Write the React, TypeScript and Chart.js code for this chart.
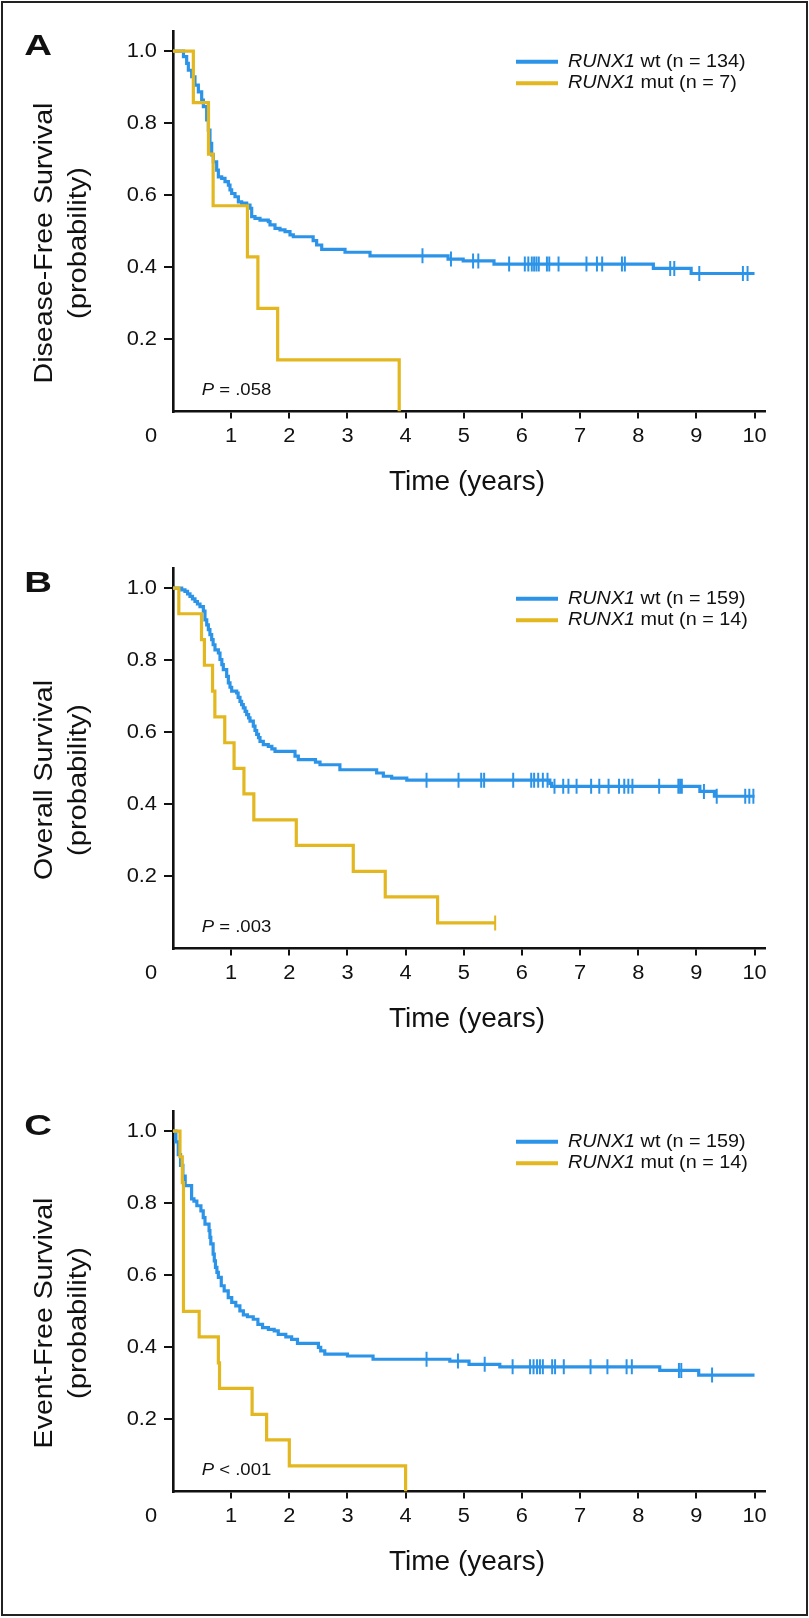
import React, { useEffect, useRef } from 'react';
import { Chart, registerables } from 'chart.js';

Chart.register(...registerables);

const BLUE = '#2C94E8';
const GOLD = '#E3B71F';
const INK = '#111111';
const FONT = '"Liberation Sans", Arial, Helvetica, sans-serif';

const xTicks = [1, 2, 3, 4, 5, 6, 7, 8, 9, 10];
const yTicks = [0.2, 0.4, 0.6, 0.8, 1.0];
const xMax = 10.18;
const yMax = 1.054;

// ---------- Panel A: Disease-Free Survival ----------
const dfsWtTimes = [0.18, 0.235, 0.264, 0.321, 0.378, 0.436, 0.493, 0.522, 0.579, 0.608, 0.636, 0.665, 0.694, 0.751, 0.78, 0.837, 0.894, 0.952, 0.98, 1.009, 1.066, 1.124, 1.181, 1.267, 1.324, 1.353, 1.41, 1.496, 1.639, 1.668, 1.754, 1.84, 1.926, 2.012, 2.069, 2.41, 2.47, 2.557, 2.958, 3.388, 4.73, 4.99, 5.52, 8.26, 8.91];
const dfsWtSurv = [0.985, 0.966, 0.947, 0.929, 0.906, 0.887, 0.864, 0.846, 0.809, 0.781, 0.744, 0.712, 0.693, 0.67, 0.651, 0.647, 0.638, 0.628, 0.615, 0.605, 0.596, 0.582, 0.578, 0.573, 0.564, 0.541, 0.536, 0.531, 0.527, 0.518, 0.508, 0.504, 0.499, 0.49, 0.485, 0.474, 0.462, 0.45, 0.442, 0.432, 0.423, 0.418, 0.409, 0.397, 0.383];
const dfsWtCensor = [4.29, 4.78, 5.16, 5.25, 5.78, 6.05, 6.11, 6.17, 6.21, 6.25, 6.29, 6.43, 6.47, 6.63, 7.11, 7.29, 7.38, 7.72, 7.77, 8.55, 8.62, 9.05, 9.8, 9.88];
const dfsWtEnd = 10.0;
const dfsMutTimes = [0.35, 0.61, 0.69, 1.28, 1.46, 1.8, 3.89];
const dfsMutSurv = [0.857, 0.714, 0.571, 0.429, 0.286, 0.143, 0.0];
const dfsMutCensor: number[] = [];
const dfsMutEnd = 3.89;

// ---------- Panel B: Overall Survival ----------
const osWtTimes = [0.15, 0.206, 0.25, 0.292, 0.335, 0.378, 0.42, 0.464, 0.522, 0.55, 0.58, 0.608, 0.635, 0.665, 0.69, 0.722, 0.78, 0.808, 0.84, 0.865, 0.923, 0.952, 0.98, 1.009, 1.095, 1.12, 1.152, 1.18, 1.209, 1.24, 1.267, 1.3, 1.324, 1.381, 1.41, 1.439, 1.47, 1.496, 1.553, 1.639, 1.7, 1.754, 2.098, 2.155, 2.45, 2.528, 2.87, 3.502, 3.617, 3.76, 4.02, 6.48, 6.51, 9.06, 9.31];
const osWtSurv = [0.995, 0.991, 0.984, 0.977, 0.97, 0.963, 0.956, 0.949, 0.936, 0.912, 0.898, 0.885, 0.871, 0.857, 0.843, 0.829, 0.82, 0.802, 0.788, 0.774, 0.755, 0.737, 0.725, 0.714, 0.709, 0.697, 0.686, 0.677, 0.668, 0.658, 0.649, 0.64, 0.631, 0.617, 0.605, 0.594, 0.585, 0.575, 0.566, 0.561, 0.554, 0.547, 0.534, 0.524, 0.517, 0.51, 0.496, 0.487, 0.478, 0.473, 0.467, 0.458, 0.45, 0.436, 0.4225];
const osWtCensor = [4.36, 4.91, 5.3, 5.35, 5.85, 6.16, 6.21, 6.28, 6.36, 6.44, 6.56, 6.71, 6.8, 6.94, 7.19, 7.33, 7.49, 7.67, 7.76, 7.83, 7.9, 8.36, 8.69, 8.72, 8.75, 9.13, 9.35, 9.84, 9.91, 9.98];
const osWtEnd = 10.0;
const osMutTimes = [0.1, 0.49, 0.54, 0.68, 0.72, 0.89, 1.05, 1.22, 1.39, 2.12, 3.1, 3.65, 4.55];
const osMutSurv = [0.929, 0.857, 0.786, 0.714, 0.643, 0.571, 0.5, 0.429, 0.357, 0.286, 0.214, 0.143, 0.071];
const osMutCensor = [5.54];
const osMutEnd = 5.54;

// ---------- Panel C: Event-Free Survival ----------
const efsWtTimes = [0.05, 0.09, 0.13, 0.17, 0.21, 0.32, 0.36, 0.41, 0.48, 0.52, 0.55, 0.62, 0.635, 0.65, 0.69, 0.71, 0.73, 0.755, 0.78, 0.83, 0.88, 0.95, 1.01, 1.08, 1.15, 1.21, 1.28, 1.38, 1.46, 1.54, 1.64, 1.74, 1.81, 1.94, 2.04, 2.14, 2.5, 2.54, 2.61, 3.0, 3.44, 4.76, 5.09, 5.62, 8.37, 9.04];
const efsWtSurv = [0.97, 0.935, 0.905, 0.875, 0.849, 0.812, 0.806, 0.793, 0.779, 0.76, 0.742, 0.724, 0.705, 0.687, 0.659, 0.64, 0.622, 0.608, 0.594, 0.571, 0.557, 0.538, 0.525, 0.515, 0.501, 0.49, 0.485, 0.478, 0.464, 0.455, 0.45, 0.446, 0.436, 0.429, 0.422, 0.411, 0.4, 0.39, 0.381, 0.376, 0.367, 0.362, 0.353, 0.346, 0.336, 0.323];
const efsWtCensor = [4.36, 4.9, 5.36, 5.84, 6.14, 6.2, 6.26, 6.31, 6.36, 6.52, 6.57, 6.72, 7.18, 7.47, 7.8, 7.89, 8.7, 8.74, 9.27];
const efsWtEnd = 10.0;
const efsMutTimes = [0.12, 0.16, 0.18, 0.45, 0.78, 0.8, 1.36, 1.61, 2.0, 4.0];
const efsMutSurv = [0.929, 0.857, 0.5, 0.429, 0.357, 0.286, 0.214, 0.143, 0.071, 0.0];
const efsMutCensor: number[] = [];
const efsMutEnd = 4.0;

const panelLetters = ['A', 'B', 'C'];
const panelTitles = ['Disease-Free Survival', 'Overall Survival', 'Event-Free Survival'];
const wtCounts = [134, 159, 159];
const mutCounts = [7, 14, 14];
const pOperators = ['=', '=', '<'];
const pValues = ['.058', '.003', '.001'];

type Curve = { times: number[]; surv: number[]; censor: number[]; end: number };
type Panel = {
  letter: string; title: string; wtN: number; mutN: number; pOp: string; pVal: string;
  wt: Curve; mut: Curve;
};

const panels: Panel[] = [
  { wt: { times: dfsWtTimes, surv: dfsWtSurv, censor: dfsWtCensor, end: dfsWtEnd }, mut: { times: dfsMutTimes, surv: dfsMutSurv, censor: dfsMutCensor, end: dfsMutEnd } },
  { wt: { times: osWtTimes, surv: osWtSurv, censor: osWtCensor, end: osWtEnd }, mut: { times: osMutTimes, surv: osMutSurv, censor: osMutCensor, end: osMutEnd } },
  { wt: { times: efsWtTimes, surv: efsWtSurv, censor: efsWtCensor, end: efsWtEnd }, mut: { times: efsMutTimes, surv: efsMutSurv, censor: efsMutCensor, end: efsMutEnd } },
].map((p, i) => ({
  ...p,
  letter: panelLetters[i], title: panelTitles[i], wtN: wtCounts[i], mutN: mutCounts[i],
  pOp: pOperators[i], pVal: pValues[i],
}));

function stepPoints(c: Curve) {
  const pts = [{ x: 0, y: 1 }];
  c.times.forEach((t, i) => pts.push({ x: t, y: c.surv[i] }));
  const last = pts[pts.length - 1];
  if (c.end > last.x) pts.push({ x: c.end, y: last.y });
  return pts;
}

function survAt(c: Curve, t: number) {
  let v = 1;
  c.times.forEach((ti, i) => { if (ti <= t) v = c.surv[i]; });
  return v;
}

function censorPoints(c: Curve) {
  return c.censor.map((t) => ({ x: t, y: survAt(c, t) }));
}

function txt(ctx: CanvasRenderingContext2D, s: string, x: number, y: number, size: number, o: any = {}) {
  ctx.save();
  ctx.translate(x, y);
  if (o.rot) ctx.rotate(o.rot);
  ctx.scale(o.sx || 1, 1);
  ctx.font = `${o.italic ? 'italic ' : ''}${o.bold ? 'bold ' : ''}${size}px ${FONT}`;
  ctx.textAlign = o.align || 'left';
  ctx.textBaseline = o.baseline || 'alphabetic';
  ctx.fillStyle = INK;
  ctx.fillText(s, 0, 0);
  ctx.restore();
}

function measure(ctx: CanvasRenderingContext2D, s: string, size: number, italic = false) {
  ctx.save();
  ctx.font = `${italic ? 'italic ' : ''}${size}px ${FONT}`;
  const w = ctx.measureText(s).width;
  ctx.restore();
  return w;
}

function mixed(ctx: CanvasRenderingContext2D, it: string, reg: string, x: number, y: number, size: number, sx: number, baseline = 'alphabetic') {
  txt(ctx, it, x, y, size, { italic: true, sx, baseline });
  const w = measure(ctx, it, size, true) * sx;
  txt(ctx, reg, x + w, y, size, { sx, baseline });
}

const CANVAS_W = 809;
const CANVAS_H = 538;

function KMPanel({ panel, top }: { panel: Panel; top: number }) {
  const ref = useRef<HTMLCanvasElement | null>(null);
  useEffect(() => {
    if (!ref.current) return;
    const textPlugin = {
      id: 'kmText',
      afterDraw(chart: any) {
        const ctx: CanvasRenderingContext2D = chart.ctx;
        const xs = chart.scales.x;
        const ys = chart.scales.y;
        const ca = chart.chartArea;
        const tickSize = 19.5;
        const tsx = 1.12;
        yTicks.forEach((v) => txt(ctx, v.toFixed(1), 157, ys.getPixelForValue(v), tickSize, { align: 'right', baseline: 'middle', sx: tsx }));
        const labelY = ca.bottom + 25;
        xTicks.forEach((t) => txt(ctx, String(t), xs.getPixelForValue(t), labelY, tickSize, { align: 'center', baseline: 'middle', sx: tsx }));
        txt(ctx, '0', xs.getPixelForValue(0) - 22, labelY, tickSize, { align: 'center', baseline: 'middle', sx: tsx });
        // x title
        txt(ctx, 'Time (years)', 467, ca.bottom + 78.5, 28, { align: 'center' });
        // y title
        const yc = 243;
        txt(ctx, panel.title, 52, yc, 25.5, { align: 'center', rot: -Math.PI / 2, sx: 1.12 });
        txt(ctx, '(probability)', 86, yc, 25.5, { align: 'center', rot: -Math.PI / 2, sx: 1.14 });
        // panel letter
        txt(ctx, panel.letter, 38, 54.5, 30, { align: 'center', bold: true, sx: 1.28 });
        // legend
        const legY1 = ca.top + 30;
        const legY2 = ca.top + 51.6;
        ctx.save();
        ctx.lineWidth = 4;
        ctx.strokeStyle = BLUE;
        ctx.beginPath(); ctx.moveTo(516, legY1); ctx.lineTo(558, legY1); ctx.stroke();
        ctx.strokeStyle = GOLD;
        ctx.beginPath(); ctx.moveTo(516, legY2); ctx.lineTo(558, legY2); ctx.stroke();
        ctx.restore();
        mixed(ctx, 'RUNX1', ` wt (n = ${panel.wtN})`, 568, legY1, 18.5, 1.07, 'middle');
        mixed(ctx, 'RUNX1', ` mut (n = ${panel.mutN})`, 568, legY2, 18.5, 1.07, 'middle');
        // P value
        mixed(ctx, 'P', ` ${panel.pOp} ${panel.pVal}`, 201.7, ca.bottom - 16.5, 17, 1.09);
      },
    };

    const chart = new Chart(ref.current, {
      type: 'line',
      data: {
        datasets: [
          { data: censorPoints(panel.mut), showLine: false, pointStyle: 'line', pointRotation: 90, pointRadius: 7.5, pointHoverRadius: 7.5, pointBorderColor: GOLD, pointBorderWidth: 2, borderColor: GOLD } as any,
          { data: stepPoints(panel.mut), stepped: true, borderColor: GOLD, borderWidth: 3.2, pointRadius: 0, fill: false } as any,
          { data: censorPoints(panel.wt), showLine: false, pointStyle: 'line', pointRotation: 90, pointRadius: 7.5, pointHoverRadius: 7.5, pointBorderColor: BLUE, pointBorderWidth: 2, borderColor: BLUE } as any,
          { data: stepPoints(panel.wt), stepped: true, borderColor: BLUE, borderWidth: 3.2, pointRadius: 0, fill: false } as any,
        ],
      },
      options: {
        animation: false,
        responsive: false,
        devicePixelRatio: 1,
        events: [],
        layout: { padding: { top: 31.7, right: CANVAS_W - 765, left: 0, bottom: 0 } },
        plugins: { legend: { display: false }, tooltip: { enabled: false } },
        scales: {
          x: {
            type: 'linear', min: 0, max: xMax,
            afterBuildTicks: (s: any) => { s.ticks = xTicks.map((v) => ({ value: v })); },
            afterFit: (s: any) => { s.height = CANVAS_H - 411.5; },
            ticks: { display: false },
            grid: { display: true, drawOnChartArea: false, drawTicks: true, tickLength: 7, color: INK, lineWidth: 2 },
            border: { display: true, color: INK, width: 2.6 },
          },
          y: {
            type: 'linear', min: 0, max: yMax,
            afterBuildTicks: (s: any) => { s.ticks = yTicks.map((v) => ({ value: v })); },
            afterFit: (s: any) => { s.width = 173; },
            ticks: { display: false },
            grid: { display: true, drawOnChartArea: false, drawTicks: true, tickLength: 9, color: INK, lineWidth: 2 },
            border: { display: true, color: INK, width: 2.6 },
          },
        },
      } as any,
      plugins: [textPlugin],
    });
    return () => chart.destroy();
  }, [panel]);
  return (
    <canvas
      ref={ref}
      width={CANVAS_W}
      height={CANVAS_H}
      style={{ position: 'absolute', left: 0, top, width: CANVAS_W, height: CANVAS_H }}
    />
  );
}

const panelTops = [0, 537, 1080];

export default function App() {
  return (
    <div style={{ position: 'absolute', left: 0, top: 0, width: 809, height: 1618, background: '#ffffff', overflow: 'hidden' }}>
      {panels.map((p, i) => (
        <KMPanel key={i} panel={p} top={panelTops[i]} />
      ))}
      <div style={{ position: 'absolute', left: 1, top: 1, width: 807, height: 1615, boxSizing: 'border-box', border: '2px solid #222', pointerEvents: 'none' }} />
    </div>
  );
}
